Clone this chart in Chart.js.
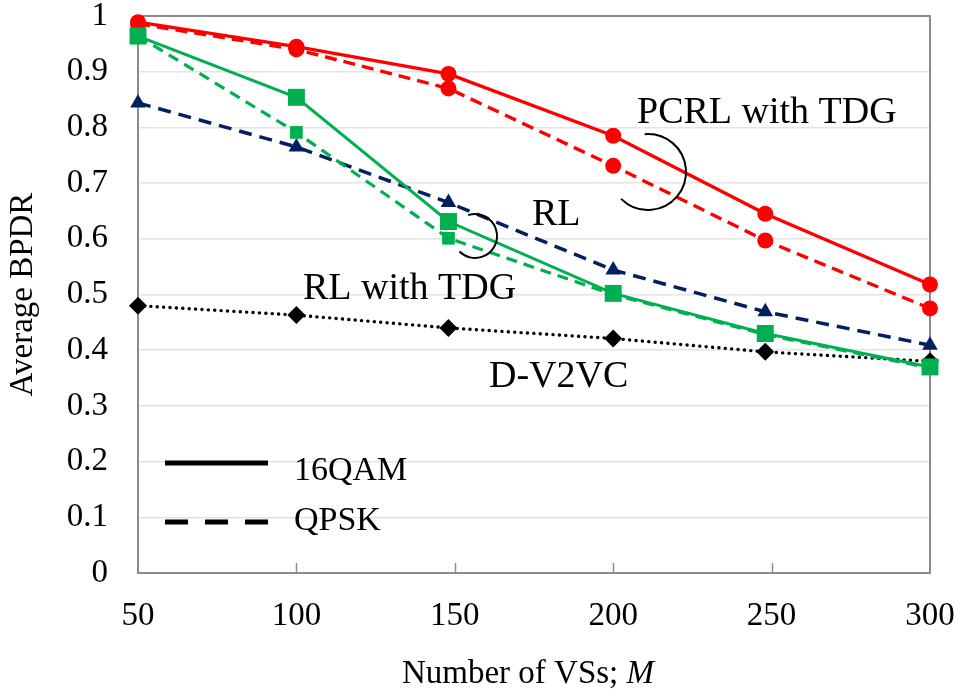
<!DOCTYPE html>
<html><head><meta charset="utf-8">
<script src="https://cdn.jsdelivr.net/npm/chart.js@4"></script>
<style>html,body{margin:0;padding:0;background:#fff}</style>
</head><body>
<canvas id="c" width="961" height="693"></canvas>
<script>
// ---- data ----
const mValues = [50, 100, 148, 200, 248, 300];
const pcrlTdg16qam = [0.989, 0.945, 0.896, 0.785, 0.645, 0.518];
const pcrlTdgQpsk  = [0.986, 0.940, 0.870, 0.731, 0.597, 0.475];
const rlTdg16qam   = [0.964, 0.854, 0.631, 0.502, 0.430, 0.370];
const rlTdgQpsk    = [0.964, 0.791, 0.601, 0.500, 0.428, 0.368];
const rlQpsk       = [0.844, 0.765, 0.665, 0.544, 0.469, 0.409];
const dV2vc        = [0.480, 0.463, 0.440, 0.421, 0.397, 0.380];
const xTickLabels = ['50', '100', '150', '200', '250', '300'];
const yTickLabels = ['0', '0.1', '0.2', '0.3', '0.4', '0.5', '0.6', '0.7', '0.8', '0.9', '1'];
const annotationTexts = ['PCRL with TDG', 'RL', 'RL with TDG', 'D-V2VC'];
const legendLabels = ['16QAM', 'QPSK'];
const xTitle = ['Number of VSs; ', 'M'];
const yTitle = 'Average BPDR';

const FONT = "'Liberation Serif', 'Times New Roman', serif";
const pts = arr => arr.map((v, i) => ({x: mValues[i], y: v}));

const RED = '#ff0000', GREEN = '#00b050', NAVY = '#002060', BLACK = '#000000';
const AXIS = '#8c8c8c';

const framePlugin = {
  id: 'frame',
  beforeDatasetsDraw(chart) {
    const {ctx, chartArea: a, scales: {x}} = chart;
    ctx.save();
    ctx.strokeStyle = AXIS;
    ctx.lineWidth = 2;
    ctx.beginPath();
    ctx.moveTo(a.left, a.top); ctx.lineTo(a.right, a.top); ctx.lineTo(a.right, a.bottom);
    ctx.stroke();
    ctx.lineWidth = 1.5;
    [100, 150, 200, 250].forEach(v => {
      const px = Math.round(x.getPixelForValue(v)) + 0.5;
      ctx.beginPath(); ctx.moveTo(px, a.bottom); ctx.lineTo(px, a.bottom - 10); ctx.stroke();
    });
    ctx.restore();
  },
  afterDatasetsDraw(chart) {
    const {ctx} = chart;
    ctx.save();
    ctx.fillStyle = '#000';
    ctx.textBaseline = 'alphabetic';
    ctx.textAlign = 'left';
    ctx.font = '38px ' + FONT;
    ctx.fillText(annotationTexts[0], 637, 123);
    ctx.fillText(annotationTexts[1], 532, 225);
    ctx.fillText(annotationTexts[2], 303, 299);
    ctx.fillText(annotationTexts[3], 489, 387);
    // connector arcs
    ctx.strokeStyle = '#000';
    ctx.lineWidth = 2;
    ctx.beginPath();
    ctx.arc(648, 172, 38, -95 * Math.PI / 180, 135 * Math.PI / 180);
    ctx.stroke();
    ctx.beginPath();
    ctx.arc(475, 236, 22, -108 * Math.PI / 180, 135 * Math.PI / 180);
    ctx.stroke();
    // legend
    ctx.lineWidth = 5;
    ctx.beginPath(); ctx.moveTo(165, 463); ctx.lineTo(268, 463); ctx.stroke();
    ctx.setLineDash([23, 17]);
    ctx.beginPath(); ctx.moveTo(165, 522); ctx.lineTo(268, 522); ctx.stroke();
    ctx.setLineDash([]);
    ctx.font = '34px ' + FONT;
    ctx.fillText(legendLabels[0], 294, 480);
    ctx.fillText(legendLabels[1], 294, 530);
    // x axis title
    ctx.font = '33px ' + FONT;
    const w1 = ctx.measureText(xTitle[0]).width;
    ctx.font = 'italic 33px ' + FONT;
    const w2 = ctx.measureText(xTitle[1]).width;
    const x0 = 528 - (w1 + w2) / 2;
    ctx.font = '33px ' + FONT;
    ctx.fillText(xTitle[0], x0, 683);
    ctx.font = 'italic 33px ' + FONT;
    ctx.fillText(xTitle[1], x0 + w1, 683);
    ctx.restore();
  }
};

const ds = (data, color, opts) => Object.assign({
  data: pts(data), borderColor: color, backgroundColor: color,
  pointBackgroundColor: color, pointBorderWidth: 0, pointHoverRadius: 0,
  borderWidth: 3.4, tension: 0, clip: false, fill: false
}, opts);

new Chart(document.getElementById('c'), {
  type: 'line',
  data: {
    datasets: [
      ds(rlTdg16qam, GREEN, {label: 'RL with TDG 16QAM', order: 1, borderWidth: 3, pointStyle: 'rect', pointRadius: 12}),
      ds(rlTdgQpsk, GREEN, {label: 'RL with TDG QPSK', order: 2, borderWidth: 3.2, borderDash: [11, 7], pointStyle: 'rect', pointRadius: 9}),
      ds(pcrlTdg16qam, RED, {label: 'PCRL with TDG 16QAM', order: 3, pointStyle: 'circle', pointRadius: 8}),
      ds(pcrlTdgQpsk, RED, {label: 'PCRL with TDG QPSK', order: 4, borderDash: [12, 7], pointStyle: 'circle', pointRadius: 8}),
      ds(rlQpsk, NAVY, {label: 'RL QPSK', order: 5, borderWidth: 3.5, borderDash: [13, 8], pointStyle: 'triangle', pointRadius: 9}),
      ds(dV2vc, BLACK, {label: 'D-V2VC', order: 6, borderWidth: 3.4, borderDash: [0.1, 6.3], borderCapStyle: 'round', pointStyle: 'rectRot', pointRadius: 9})
    ]
  },
  options: {
    responsive: false,
    animation: false,
    events: [],
    layout: {padding: {left: 0, top: 16, right: 31, bottom: 0}},
    plugins: {legend: {display: false}, tooltip: {enabled: false}},
    scales: {
      x: {
        type: 'linear', min: 50, max: 300,
        ticks: {stepSize: 50, padding: 27, color: '#000', font: {family: FONT, size: 33, lineHeight: 1},
                callback: (v, i) => xTickLabels[i], maxRotation: 0},
        grid: {display: false, drawTicks: false},
        border: {display: true, color: AXIS, width: 2},
        afterFit(s) { s.height = 120; s.paddingLeft = 0; s.paddingRight = 0; }
      },
      y: {
        min: 0, max: 1,
        ticks: {stepSize: 0.1, padding: 30, color: '#000', font: {family: FONT, size: 33, lineHeight: 1},
                callback: (v, i) => yTickLabels[i]},
        grid: {color: '#e4e4e4', lineWidth: 1.5, drawTicks: false},
        border: {display: true, color: AXIS, width: 2},
        title: {display: true, text: yTitle, color: '#000', font: {family: FONT, size: 33, lineHeight: 1.2}, padding: {top: 4, bottom: 0}},
        afterFit(s) { s.width = 138; s.paddingTop = 0; s.paddingBottom = 0; }
      }
    }
  },
  plugins: [framePlugin]
});
</script>
</body></html>
